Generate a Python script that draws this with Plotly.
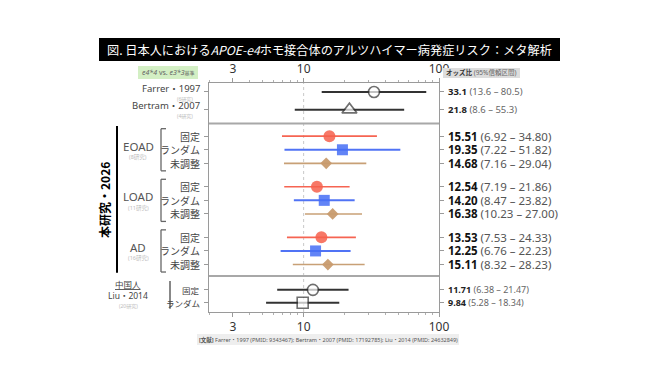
import plotly.graph_objects as go

# ---------------- data ----------------
lit_labels = ["Farrer・1997", "Bertram・2007"]
lit_sub = ["(6研究)", "(4研究)"]
lit_or = [33.1, 21.8]
lit_lo = [13.6, 8.6]
lit_hi = [80.5, 55.3]

groups = ["EOAD", "LOAD", "AD"]
group_sub = ["(8研究)", "(11研究)", "(16研究)"]
methods = ["固定", "ランダム", "未調整"]
own_or = [[15.51, 19.35, 14.68], [12.54, 14.20, 16.38], [13.53, 12.25, 15.11]]
own_lo = [[6.92, 7.22, 7.16], [7.19, 8.47, 10.23], [7.53, 6.76, 8.32]]
own_hi = [[34.80, 51.82, 29.04], [21.86, 23.82, 27.00], [24.33, 22.23, 28.23]]

cn_methods = ["固定", "ランダム"]
cn_or = [11.71, 9.84]
cn_lo = [6.38, 5.28]
cn_hi = [21.47, 18.34]

x_ticks = [3, 10, 100]
x_minor = [2, 4, 5, 6, 7, 8, 9, 20, 30, 40, 50, 60, 70, 80, 90]

title_text = "図. 日本人における<i>APOE-e4</i>ホモ接合体のアルツハイマー病発症リスク：メタ解析"
footnote = "<b>[文献]</b> Farrer・1997 (PMID: 9343467); Bertram・2007 (PMID: 17192785); Liu・2014 (PMID: 24632849)"

# ---------------- layout geometry ----------------
W, H = 657, 369
L, R, T, B = 209, 439, 83, 312
PW, PH = R - L, B - T
def px(x):
    return (x - L) / PW
def py(y):
    return (B - y) / PH

FONT = "Noto Sans, Noto Sans CJK JP, sans-serif"
JP = "Noto Sans CJK JP, sans-serif"

lit_y = [0.0, 1.3]
own_base, own_pitch, own_step = 3.25, 3.72, 1.0
own_y = [[own_base + g * own_pitch + m * own_step for m in range(3)] for g in range(3)]
cn_y = [14.55, 15.5]
y_range = [16.18, -0.66]
sep_y = [2.32, 13.53]

RED = "rgba(246,96,76,0.85)"
RED_L = "rgb(246,100,82)"
BLUE = "rgba(70,110,245,0.85)"
BLUE_L = "rgb(80,115,245)"
TAN = "rgba(200,155,110,0.95)"
TAN_L = "rgb(200,160,118)"
DARK = "#333333"

fig = go.Figure()

def err(o, lo, hi):
    return [h - v for v, h in zip(o, hi)], [v - l for v, l in zip(o, lo)]

# literature rows
ep, em = err(lit_or, lit_lo, lit_hi)
fig.add_trace(go.Scatter(
    x=lit_or, y=lit_y, mode="markers",
    marker=dict(symbol=["circle", "triangle-up"], size=[11, 13], color="white",
                line=dict(color=DARK, width=1.6)),
    error_x=dict(type="data", symmetric=False, array=ep, arrayminus=em,
                 width=0, thickness=2, color=DARK),
    showlegend=False, hoverinfo="skip"))

# own study
styles = [
    dict(symbol="circle", size=12, color=RED, lc=RED_L, lw=1.6),
    dict(symbol="square", size=11, color=BLUE, lc=BLUE_L, lw=2.0),
    dict(symbol="diamond", size=9, color=TAN, lc=TAN_L, lw=1.6),
]
for m, st in enumerate(styles):
    xs = [own_or[g][m] for g in range(3)]
    lo = [own_lo[g][m] for g in range(3)]
    hi = [own_hi[g][m] for g in range(3)]
    ys = [own_y[g][m] for g in range(3)]
    ep, em = err(xs, lo, hi)
    fig.add_trace(go.Scatter(
        x=xs, y=ys, mode="markers",
        marker=dict(symbol=st["symbol"], size=st["size"], color=st["color"], line=dict(width=0)),
        error_x=dict(type="data", symmetric=False, array=ep, arrayminus=em,
                     width=0, thickness=st["lw"], color=st["lc"]),
        showlegend=False, hoverinfo="skip"))

# chinese rows
ep, em = err(cn_or, cn_lo, cn_hi)
fig.add_trace(go.Scatter(
    x=cn_or, y=cn_y, mode="markers",
    marker=dict(symbol=["circle", "square"], size=[11, 11], color="white",
                line=dict(color=DARK, width=1.6)),
    error_x=dict(type="data", symmetric=False, array=ep, arrayminus=em,
                 width=0, thickness=2, color=DARK),
    showlegend=False, hoverinfo="skip"))

# invisible trace for the top axis
fig.add_trace(go.Scatter(x=[10], y=[0], xaxis="x2", mode="markers",
                         marker=dict(opacity=0), showlegend=False, hoverinfo="skip"))

all_y = lit_y + [v for row in own_y for v in row] + cn_y

axis_common = dict(
    type="log", range=[0.301, 2.0], tickvals=x_ticks, ticktext=[str(t) for t in x_ticks],
    showgrid=False, zeroline=False, showline=True, linecolor="#9a9a9a", linewidth=1,
    ticks="outside", ticklen=4, tickcolor="#9a9a9a",
    minor=dict(tickvals=x_minor, ticks="outside", ticklen=2, tickcolor="#b0b0b0"),
    tickfont=dict(family=FONT, size=12, color="#333"),
)
fig.update_layout(
    width=W, height=H, paper_bgcolor="white", plot_bgcolor="white",
    margin=dict(l=L, r=W - R, t=T, b=H - B),
    xaxis=dict(**axis_common, side="bottom"),
    xaxis2=dict(**axis_common, side="top", overlaying="x", matches="x"),
    yaxis=dict(range=y_range, tickvals=all_y, showticklabels=False, showgrid=False,
               zeroline=False, showline=True, mirror="ticks", linecolor="#9a9a9a",
               ticks="outside", ticklen=4, tickcolor="#9a9a9a"),
)

shapes = []
# reference line at 10
shapes.append(dict(type="line", xref="x", yref="paper", x0=10, x1=10, y0=0, y1=1,
                   line=dict(color="#c8c8c8", width=1, dash="dot"), layer="below"))
for s in sep_y:
    shapes.append(dict(type="line", xref="paper", yref="y", x0=0, x1=1, y0=s, y1=s,
                       line=dict(color="#a8a8a8", width=2)))
# title box
shapes.append(dict(type="rect", xref="paper", yref="paper", x0=px(99), x1=px(560),
                   y0=py(61), y1=py(38), fillcolor="black", line=dict(width=0)))
# green label box
shapes.append(dict(type="rect", xref="paper", yref="paper", x0=px(138), x1=px(198),
                   y0=py(79), y1=py(66), fillcolor="#d3efc4", line=dict(width=0)))
# header box
shapes.append(dict(type="rect", xref="paper", yref="paper", x0=px(443), x1=px(520),
                   y0=py(78), y1=py(68), fillcolor="#dddddd", line=dict(width=0)))
# footnote box
shapes.append(dict(type="rect", xref="paper", yref="paper", x0=px(197), x1=px(459),
                   y0=py(345), y1=py(334), fillcolor="#eeeeee", line=dict(width=0)))
# big black line for own study
shapes.append(dict(type="line", xref="paper", yref="y", x0=px(117), x1=px(117),
                   y0=2.5, y1=13.3, line=dict(color="black", width=2)))
# brackets
for g in range(3):
    y0, y1 = own_y[g][0] - 0.55, own_y[g][2] + 0.55
    xb = px(161)
    shapes.append(dict(type="line", xref="paper", yref="y", x0=xb, x1=xb, y0=y0, y1=y1,
                       line=dict(color="#666", width=1.3)))
    for yy in (y0, y1):
        shapes.append(dict(type="line", xref="paper", yref="y", x0=xb, x1=px(166), y0=yy, y1=yy,
                           line=dict(color="#666", width=1.3)))
# chinese line
shapes.append(dict(type="line", xref="paper", yref="y", x0=px(170), x1=px(170),
                   y0=13.9, y1=15.95, line=dict(color="#888", width=2)))
fig.update_layout(shapes=shapes)

ann = []
def A(text, x, y, yref="paper", size=10, color="#333", xanchor="center", yanchor="middle",
      family=FONT, angle=0):
    ann.append(dict(text=text, x=x, y=y, xref="paper", yref=yref, showarrow=False,
                    xanchor=xanchor, yanchor=yanchor, textangle=angle,
                    font=dict(family=family, size=size, color=color)))

# title
A(title_text, px(329), py(49.5), size=12.2, color="white", family=JP)
# green label
A("<i>e4*4</i> vs. <i>e3*3</i><span style='font-size:5px'>基準</span>", px(168), py(72.5),
  size=7, color="#666")
# header
A("<b>オッズ比</b> <span style='color:#666'>(95%信頼区間)</span>", px(444), py(73),
  size=6.5, color="#333", xanchor="left")
# literature labels
for lab, sub, y in zip(lit_labels, lit_sub, lit_y):
    A(lab, px(202), y - 0.28, yref="y", size=9.5, color="#444", xanchor="right")
    A(sub, px(185), y + 0.52, yref="y", size=5, color="#bbbbbb")
for v, lo, hi, y in zip(lit_or, lit_lo, lit_hi, lit_y):
    A(f"<b>{v:.1f}</b> <span style='color:#666'>({lo:.1f} – {hi:.1f})</span>",
      px(446), y, yref="y", size=9.5, color="#222", xanchor="left")
# own study
A("<b>本研究・2026</b>", px(104), py(200), size=12, color="black", angle=-90, family=JP)
for g in range(3):
    ymid = own_y[g][1]
    A(groups[g], px(138), ymid - 0.25, yref="y", size=11.5, color="#555")
    A(group_sub[g], px(138), ymid + 0.55, yref="y", size=5.5, color="#bbbbbb")
    for m in range(3):
        y = own_y[g][m]
        A(methods[m], px(202), y, yref="y", size=10, color="#444", xanchor="right", family=JP)
        A(f"<b>{own_or[g][m]:.2f}</b> <span style='color:#555'>({own_lo[g][m]:.2f} – {own_hi[g][m]:.2f})</span>",
          px(446), y, yref="y", size=11.5, color="#111", xanchor="left")
# chinese
A("<u>中国人</u>", px(128), 14.15, yref="y", size=8.5, color="#444", family=JP)
A("Liu・2014", px(128), 14.95, yref="y", size=8.5, color="#444")
A("(20研究)", px(128), 15.75, yref="y", size=5, color="#bbbbbb")
for lab, v, lo, hi, y in zip(cn_methods, cn_or, cn_lo, cn_hi, cn_y):
    A(lab, px(202), y, yref="y", size=8.5, color="#444", xanchor="right", family=JP)
    A(f"<b>{v:.2f}</b> <span style='color:#666'>({lo:.2f} – {hi:.2f})</span>",
      px(446), y, yref="y", size=9, color="#222", xanchor="left")
# footnote
A(footnote, px(328), py(339.5), size=5.5, color="#555")

fig.update_layout(annotations=ann)
fig.write_html("out.html")
